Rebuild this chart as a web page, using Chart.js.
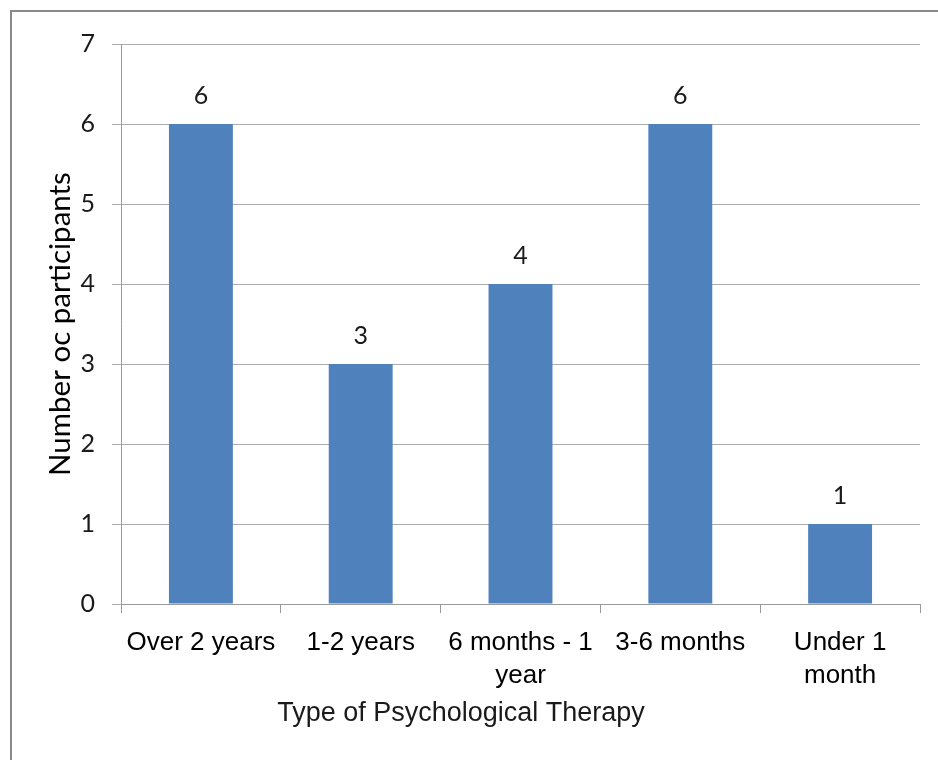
<!DOCTYPE html>
<html lang="en">
<head>
  <meta charset="UTF-8">
  <title>Type of Psychological Therapy</title>
  <script src="https://cdn.jsdelivr.net/npm/chart.js"></script>
  <style>
    body { margin: 0; background: #fff; }
  </style>
</head>
<body>
  <canvas id="therapyChart" width="938" height="760"></canvas>

  <script>
    // chart data
    const categories = ['Over 2 years', '1-2 years', ['6 months - 1', 'year'], '3-6 months', ['Under 1', 'month']];
    const participants = [6, 3, 4, 6, 1];
    const yTicks = [0, 1, 2, 3, 4, 5, 6, 7];
    const xTitle = 'Type of Psychological Therapy';
    const yTitle = 'Number oc participants';

    const gridGrey = '#adadad';
    const axisGrey = '#9a9a9a';

    // frame, value labels and the x axis title
    const extras = {
      id: 'extras',
      beforeDraw(chart) {
        const ctx = chart.ctx;
        ctx.save();
        ctx.fillStyle = '#fff';
        ctx.fillRect(0, 0, chart.width, chart.height);
        ctx.strokeStyle = '#8a8a8a';
        ctx.lineWidth = 2;
        ctx.strokeRect(11, 11, chart.width + 20, chart.height + 20);
        ctx.restore();
      },
      afterDatasetsDraw(chart) {
        const ctx = chart.ctx;
        const meta = chart.getDatasetMeta(0);
        ctx.save();
        ctx.fillStyle = '#1a1a1a';
        ctx.textAlign = 'center';
        ctx.textBaseline = 'middle';
        ctx.font = '25px Lato';
        meta.data.forEach((bar, i) => {
          ctx.fillText(String(participants[i]), bar.x, bar.y - 28);
        });
        ctx.font = '27px "Liberation Sans"';
        ctx.fillText(xTitle, 461, 714);
        ctx.restore();
      }
    };

    const ctx = document.getElementById('therapyChart').getContext('2d');
    new Chart(ctx, {
      type: 'bar',
      data: {
        labels: categories,
        datasets: [{
          data: participants,
          backgroundColor: '#4f81bd',
          borderWidth: 0,
          barPercentage: 0.4,
          categoryPercentage: 1
        }]
      },
      options: {
        responsive: false,
        animation: false,
        layout: { padding: { top: 44, right: 18, left: 0, bottom: 0 } },
        plugins: {
          legend: { display: false },
          tooltip: { enabled: false }
        },
        scales: {
          x: {
            offset: true,
            grid: {
              offset: true,
              drawOnChartArea: false,
              drawTicks: true,
              tickLength: 9,
              color: axisGrey
            },
            border: { color: axisGrey, width: 1 },
            ticks: {
              color: '#000',
              padding: 14,
              maxRotation: 0,
              autoSkip: false,
              font: { family: '"Liberation Sans", Arial, sans-serif', size: 26, lineHeight: 1.25 }
            },
            afterFit(scale) { scale.height = 156; }
          },
          y: {
            min: 0,
            max: 7,
            afterBuildTicks(scale) { scale.ticks = yTicks.map(v => ({ value: v })); },
            grid: { color: gridGrey, tickLength: 9 },
            border: { color: axisGrey, width: 1 },
            ticks: {
              color: '#1a1a1a',
              padding: 17,
              font: { family: 'Lato, sans-serif', size: 25 }
            },
            title: {
              display: true,
              text: yTitle,
              color: '#000',
              padding: { top: 43, bottom: 0 },
              font: { family: 'Lato, sans-serif', size: 29.5, lineHeight: 1.2 }
            },
            afterFit(scale) { scale.width = 121; }
          }
        }
      },
      plugins: [extras]
    });
  </script>
</body>
</html>
